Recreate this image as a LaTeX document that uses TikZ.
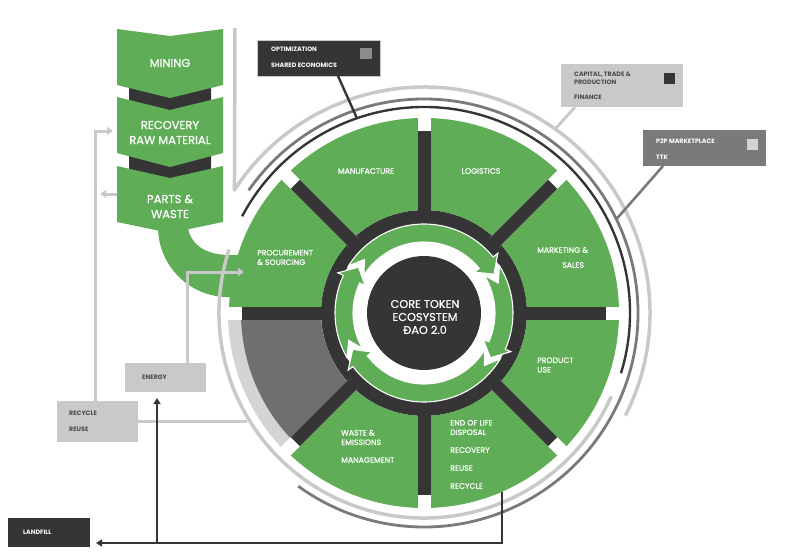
\documentclass[tikz,border=0pt]{standalone}
\usepackage{fontspec}
\setmainfont{Poppins}
\newfontfamily\semi[FakeBold=0.7]{Poppins}
\usetikzlibrary{arrows.meta,calc}
\definecolor{grn}{HTML}{5FAD56}
\definecolor{drk}{HTML}{353535}
\definecolor{midg}{HTML}{6F6F6F}
\definecolor{lgt}{HTML}{C9C9C9}
\definecolor{lband}{HTML}{D4D4D4}
\definecolor{boxg}{HTML}{7A7A7A}
\definecolor{sqg}{HTML}{8C8C8C}
\definecolor{txtg}{HTML}{4A4A4A}
\begin{document}
\begin{tikzpicture}[x=1pt,y=1pt,
  sect/.style={text=white,font=\semi\fontsize{7.8}{9.5}\selectfont,inner sep=0,anchor=west,align=left},
  chev/.style={text=white,font=\semi\fontsize{11.5}{15}\selectfont,inner sep=0,align=center},
  boxtxt/.style={font=\bfseries\fontsize{6.3}{7.8}\selectfont,inner sep=0,anchor=west},
  lgline/.style={draw=lgt,line width=3},
  lgarrow/.style={draw=lgt,line width=3,-{Triangle[length=6,width=8]}},
  dkarrow/.style={draw=drk,line width=2.4,-{Triangle[length=6,width=7]}},
  arrowband/.style={fill=grn,draw=white,line width=1.1,line join=miter}]
\useasboundingbox (0,0) rectangle (800,-555);

% U shape joining parts & waste to procurement
\fill[grn] (158,-222) -- (158,-227) arc[start angle=180,end angle=270,radius=70]
  -- (250,-297) -- (250,-255) -- (227,-255) .. controls (205,-254) and (189,-245) .. (187,-222) -- cycle;

% chevrons
\fill[drk] (129,-80) -- (211,-80) -- (211,-104) -- (170,-116) -- (129,-104) -- cycle;
\fill[drk] (129,-150) -- (211,-150) -- (211,-173) -- (170,-185) -- (129,-173) -- cycle;
\fill[grn] (117,-29) -- (170,-36) -- (223,-29) -- (223,-85) -- (170,-98) -- (117,-85) -- cycle;
\fill[grn] (117,-97) -- (170,-110) -- (223,-97) -- (223,-153) -- (170,-167) -- (117,-153) -- cycle;
\fill[grn] (117,-166) -- (170,-178) -- (223,-166) -- (223,-222) -- (170,-233) -- (117,-222) -- cycle;
\node[chev] (mining) at (170,-63) {MINING};
\node[chev] (recov) at (170,-132.5) {RECOVERY\\RAW MATERIAL};
\node[chev] (parts) at (170,-206.5) {PARTS \&\\WASTE};

% wheel
\begin{scope}[shift={(424,-313)}]
  \fill[drk] (0,0) circle (103);
  \fill[grn,even odd rule] (0,0) circle (195) (0,0) circle (103);
  \fill[lband] (180:103) arc[start angle=180,end angle=225,radius=103] -- (225:196) arc[start angle=225,end angle=180,radius=196] -- cycle;
  \fill[midg] (180:103) arc[start angle=180,end angle=225,radius=103] -- (225:183) arc[start angle=225,end angle=180,radius=183] -- cycle;
  \foreach \a in {0,45,...,315} \draw[white,line width=13] (\a:100) -- (\a:200);
  \foreach \a in {0,45,...,315} \draw[drk,line width=13] (\a:95) -- (\a:182);
  \fill[white] (0,0) circle (89);
  \foreach \s/\e in {148/29, 32/-34, -31/-153, -150/-215}
    \filldraw[arrowband] (\s:89) arc[start angle=\s,end angle=\e+10,radius=89]
      -- ({\e+10}:95) -- (\e:80) -- ({\e+10}:65) -- ({\e+10}:71)
      arc[start angle=\e+10,end angle=\s,radius=71] -- ({\s-10}:80) -- cycle;
  \fill[drk] (0,0) circle (57);
  \coordinate (tlgstart) at (147:226);
  \coordinate (optend) at (109:206);
  \coordinate (capend) at (54.5:226);
  \coordinate (p2pend) at (26:214);
  % outer arcs
  \draw[lgt,line width=3.5] (-24:205) arc[start angle=-24,end angle=-198,radius=205];
  \draw[boxg,line width=2.8] (145:214) arc[start angle=145,end angle=-126,radius=214];
  \draw[drk,line width=2.4] (152:206) arc[start angle=152,end angle=-17,radius=206];
\end{scope}
\draw[lgt,line width=3.5,line join=round] (235,-28) -- (tlgstart) arc[start angle=147,end angle=-27,radius=226];

\node[text=white,font=\semi\fontsize{11.3}{13}\selectfont,align=center,inner sep=0] (core) at (425,-317) {CORE TOKEN\\ECOSYSTEM\\ĐAO 2.0};

% sector labels
\node[sect,anchor=center] (manu) at (366,-171) {MANUFACTURE};
\node[sect,anchor=center] (logi) at (481,-171) {LOGISTICS};
\node[sect] (mark1) at (537,-250) {MARKETING \&};
\node[sect] (mark2) at (562,-265) {SALES};
\node[sect] (prod) at (537,-365) {PRODUCT\\USE};
\node[sect] (eol) at (450,-427.5) {END OF LIFE\\DISPOSAL};
\node[sect] (eol2) at (450,-450) {RECOVERY};
\node[sect] (eol3) at (450,-468) {REUSE};
\node[sect] (eol4) at (450,-486) {RECYCLE};
\node[sect] (waste) at (341,-437.5) {WASTE \&\\EMISSIONS};
\node[sect] (waste2) at (341,-460) {MANAGEMENT};
\node[sect] (proc) at (257,-257.5) {PROCUREMENT\\\& SOURCING};

% top boxes
\node[fill=drk,draw=lgt,line width=0.6,minimum width=123,minimum height=36,inner sep=0] (opt) at (318.5,-58) {};
\fill[sqg] (360,-48) rectangle (372,-59);
\node[boxtxt,text=white] (opt1) at (271,-49) {OPTIMIZATION};
\node[boxtxt,text=white] (opt2) at (271,-65) {SHARED ECONOMICS};
\coordinate (optstart) at (338,-76);
\draw[drk,line width=2.4] (optstart) -- (optend);

\node[fill=lgt,minimum width=122,minimum height=43,inner sep=0] (cap) at (622,-85.5) {};
\fill[drk] (664,-73) rectangle (675,-84);
\node[boxtxt,text=txtg,align=left] (cap1) at (574,-78) {CAPITAL, TRADE \&\\PRODUCTION};
\node[boxtxt,text=txtg] (cap2) at (574,-97) {FINANCE};
\coordinate (capstart) at (575,-107);
\draw[lgt,line width=3] (capstart) -- (capend);

\node[fill=boxg,minimum width=123,minimum height=36,inner sep=0] (p2p) at (704.5,-148) {};
\fill[lband] (747,-139) rectangle (758,-150);
\node[boxtxt,text=white] (p2p1) at (656,-141) {P2P MARKETPLACE};
\node[boxtxt,text=white] (p2p2) at (656,-157) {TTK};
\coordinate (p2pstart) at (663,-166);
\draw[boxg,line width=2.6] (p2pstart) -- (p2pend);

% lower-left boxes
\node[fill=lgt,minimum width=81,minimum height=29,inner sep=0] (energy) at (165.5,-377.5) {};
\node[boxtxt,text=txtg] (energyt) at (142,-377) {ENERGY};
\node[fill=lgt,minimum width=81,minimum height=41,inner sep=0] (recyc) at (97.5,-421.5) {};
\node[boxtxt,text=txtg] (recyc1) at (69,-413) {RECYCLE};
\node[boxtxt,text=txtg] (recyc2) at (69,-429) {REUSE};
\node[fill=drk,minimum width=82,minimum height=29,inner sep=0] (landfill) at (49,-532.5) {};
\node[boxtxt,text=white] (landt) at (23,-532) {LANDFILL};

% light gray connectors
\coordinate (recup) at (95,-401);
\coordinate (rectip) at (113,-131);
\draw[lgarrow] (recup) |- (rectip);
\coordinate (partsl) at (117,-194);
\coordinate (partstip) at (100,-194);
\draw[lgarrow] (partsl) -- (partstip);
\coordinate (energyup) at (187,-363);
\coordinate (proctip) at (244,-272);
\draw[lgarrow] (energyup) |- (proctip);
\coordinate (recright) at (138,-421);
\coordinate (arcleft) at (247,-421);
\draw[lgline] (recright) -- (arcleft);

% dark connectors
\coordinate (eolout) at (502,-492);
\coordinate (bottomrun) at (502,-543);
\coordinate (landtip) at (96,-543);
\draw[dkarrow] (eolout) -- (bottomrun) -- (landtip);
\coordinate (energyfoot) at (157,-543);
\coordinate (energytip) at (157,-398);
\draw[dkarrow] (energyfoot) -- (energytip);
\end{tikzpicture}
\end{document}
